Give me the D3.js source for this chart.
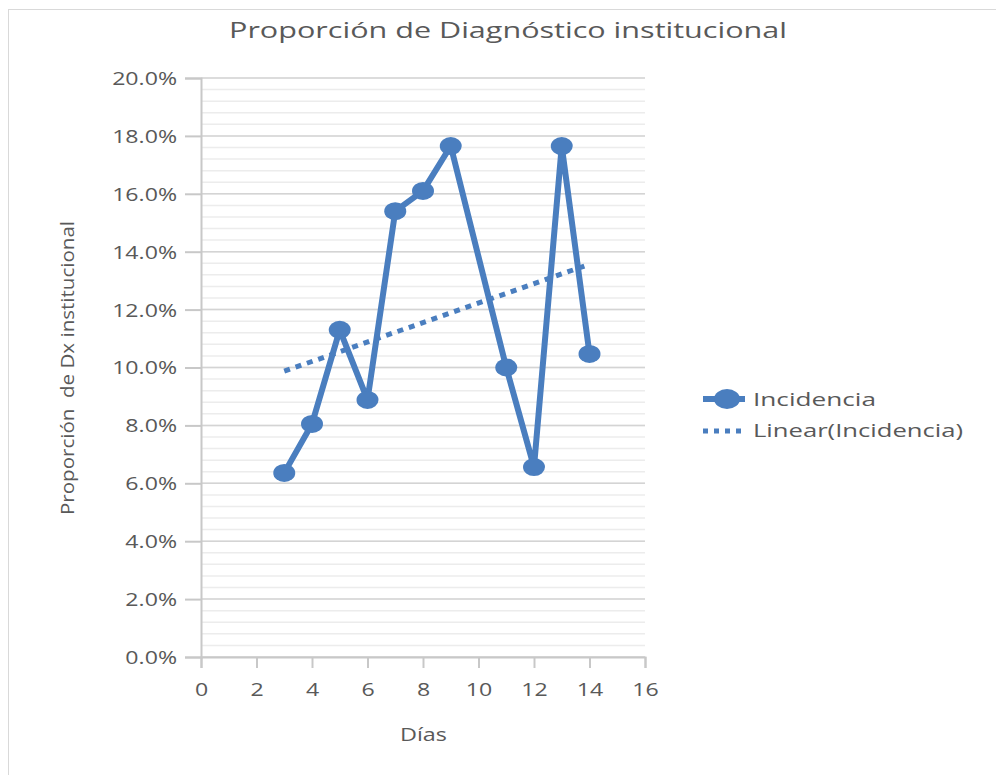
<!DOCTYPE html>
<html>
<head>
<meta charset="utf-8">
<script src="https://cdn.jsdelivr.net/npm/d3@7"></script>
<style>
  body { margin: 0; background: #fff; }
  text { font-family: "Open Sans", "Noto Sans", sans-serif; fill: #595959; }
</style>
</head>
<body>
<div id="canvas"></div>
<script>
var w = 996;
var h = 775;

// data
var dias = [3, 4, 5, 6, 7, 8, 9, 11, 12, 13, 14];
var incidencia = [0.0636, 0.0805, 0.113, 0.0888, 0.154, 0.161, 0.1765, 0.100, 0.0656, 0.1765, 0.1047];
var xTicks = [0, 2, 4, 6, 8, 10, 12, 14, 16];
var yTicks = [0, 0.02, 0.04, 0.06, 0.08, 0.10, 0.12, 0.14, 0.16, 0.18, 0.20];
var seriesName = "Incidencia";
var trendName = "Linear(Incidencia)";

var blue = "#4a7ebf";

var svg = d3.select("#canvas")
    .append("svg")
    .attr("width", w)
    .attr("height", h);

// chart frame
svg.append("rect")
    .attr("x", 8.5).attr("y", 9.5)
    .attr("width", w).attr("height", h)
    .attr("fill", "#fff")
    .attr("stroke", "#d9d9d9");

var x = d3.scaleLinear().domain([0, 16]).range([201, 645]);
var y = d3.scaleLinear().domain([0, 0.20]).range([657, 78]);

// minor gridlines every 0.4%
var minor = d3.range(0, 51).map(function(i) { return i * 0.004; });
svg.selectAll("line.minor")
    .data(minor)
    .join("line")
    .attr("class", "minor")
    .attr("x1", x(0)).attr("x2", x(16))
    .attr("y1", function(d) { return y(d); })
    .attr("y2", function(d) { return y(d); })
    .attr("stroke", "#ececec")
    .attr("stroke-width", 1.5);

// major gridlines
svg.selectAll("line.major")
    .data(yTicks)
    .join("line")
    .attr("class", "major")
    .attr("x1", x(0)).attr("x2", x(16))
    .attr("y1", function(d) { return y(d); })
    .attr("y2", function(d) { return y(d); })
    .attr("stroke", "#d4d4d4")
    .attr("stroke-width", 1.5);

// y axis
var yAxis = svg.append("g")
    .attr("transform", "translate(" + x(0) + ",0)")
    .call(d3.axisLeft(y).tickValues(yTicks).tickSize(16).tickPadding(8)
        .tickFormat(d3.format(".1%")));
// x axis
var xAxis = svg.append("g")
    .attr("transform", "translate(0," + y(0) + ")")
    .call(d3.axisBottom(x).tickValues(xTicks).tickSize(11).tickPadding(15));

[yAxis, xAxis].forEach(function(ax) {
    ax.select(".domain").attr("stroke", "#c8c8c8").attr("stroke-width", 2);
    ax.selectAll(".tick line").attr("stroke", "#c8c8c8").attr("stroke-width", 2);
    ax.selectAll("text")
        .attr("fill", "#666")
        .style("font-size", "18.5px");
});
// the picture's labels are wider than the installed fonts: stretch them
yAxis.selectAll("text").attr("dy", "0.35em")
    .attr("lengthAdjust", "spacingAndGlyphs")
    .attr("textLength", function() { return this.getComputedTextLength() * 1.25; });
xAxis.selectAll("text").attr("dy", "0.71em").attr("transform", "scale(1.25,1)");

// linear trend (least squares over the series)
var mx = d3.mean(dias), my = d3.mean(incidencia);
var sxy = d3.sum(dias, function(d, i) { return (d - mx) * (incidencia[i] - my); });
var sxx = d3.sum(dias, function(d) { return (d - mx) * (d - mx); });
var slope = sxy / sxx, icpt = my - slope * mx;
var trendX = d3.extent(dias);
svg.append("line")
    .attr("x1", x(trendX[0])).attr("y1", y(icpt + slope * trendX[0]))
    .attr("x2", x(trendX[1])).attr("y2", y(icpt + slope * trendX[1]))
    .attr("stroke", blue)
    .attr("stroke-width", 5)
    .attr("stroke-dasharray", "6,6");

// series line
var pts = dias.map(function(d, i) { return [d, incidencia[i]]; });
svg.append("path")
    .datum(pts)
    .attr("fill", "none")
    .attr("stroke", blue)
    .attr("stroke-width", 6)
    .attr("stroke-linejoin", "round")
    .attr("d", d3.line()
        .x(function(d) { return x(d[0]); })
        .y(function(d) { return y(d[1]); }));

svg.selectAll("ellipse.pt")
    .data(pts)
    .join("ellipse")
    .attr("class", "pt")
    .attr("cx", function(d) { return x(d[0]); })
    .attr("cy", function(d) { return y(d[1]); })
    .attr("rx", 11)
    .attr("ry", 9)
    .attr("fill", blue);

// title
svg.append("text")
    .attr("x", 229).attr("y", 38)
    .attr("textLength", 558)
    .attr("lengthAdjust", "spacingAndGlyphs")
    .style("font-size", "22px")
    .text("Proporción de Diagnóstico institucional");

// axis titles
svg.append("text")
    .attr("transform", "translate(74,515) rotate(-90)")
    .attr("textLength", 294)
    .attr("lengthAdjust", "spacingAndGlyphs")
    .style("font-size", "18px")
    .style("white-space", "pre")
    .text("Proporción  de Dx institucional");

svg.append("text")
    .attr("x", 400).attr("y", 741)
    .attr("textLength", 47)
    .attr("lengthAdjust", "spacingAndGlyphs")
    .style("font-size", "19px")
    .text("Días");

// legend
var lg = svg.append("g");
lg.append("line")
    .attr("x1", 703).attr("x2", 745)
    .attr("y1", 399).attr("y2", 399)
    .attr("stroke", blue).attr("stroke-width", 6);
lg.append("ellipse")
    .attr("cx", 727).attr("cy", 399)
    .attr("rx", 13).attr("ry", 10)
    .attr("fill", blue);
lg.append("text")
    .attr("x", 753).attr("y", 406)
    .attr("textLength", 123)
    .attr("lengthAdjust", "spacingAndGlyphs")
    .style("font-size", "19px")
    .text(seriesName);
lg.append("line")
    .attr("x1", 703).attr("x2", 746)
    .attr("y1", 431).attr("y2", 431)
    .attr("stroke", blue).attr("stroke-width", 5)
    .attr("stroke-dasharray", "5,6");
lg.append("text")
    .attr("x", 753).attr("y", 437)
    .attr("textLength", 210)
    .attr("lengthAdjust", "spacingAndGlyphs")
    .style("font-size", "19px")
    .text(trendName);
</script>
</body>
</html>
